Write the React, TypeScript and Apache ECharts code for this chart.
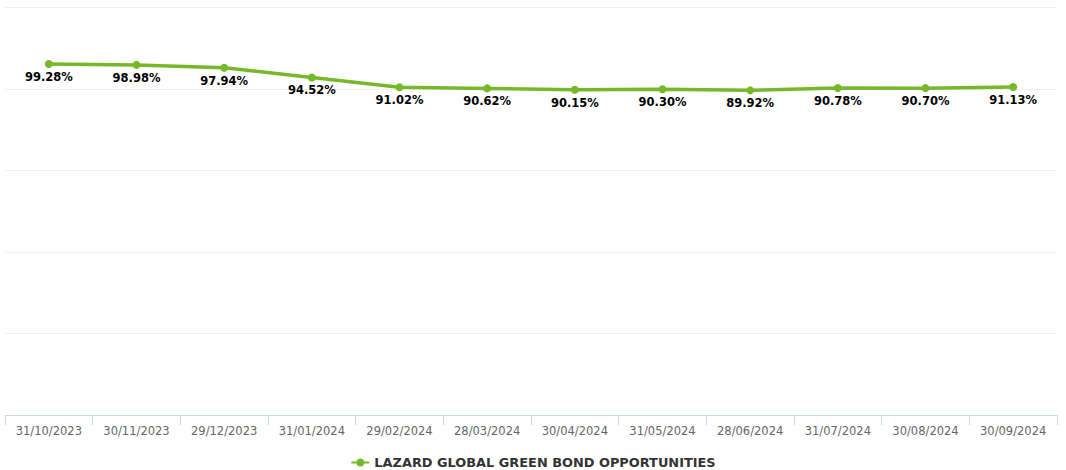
import React, { useEffect, useRef } from "react";
import * as echarts from "echarts";

const categories = [
  "31/10/2023", "30/11/2023", "29/12/2023", "31/01/2024", "29/02/2024", "28/03/2024",
  "30/04/2024", "31/05/2024", "28/06/2024", "31/07/2024", "30/08/2024", "30/09/2024",
];
const seriesName = "LAZARD GLOBAL GREEN BOND OPPORTUNITIES";
const values = [99.28, 98.98, 97.94, 94.52, 91.02, 90.62, 90.15, 90.3, 89.92, 90.78, 90.7, 91.13];

const FONT = "DejaVu Sans";
const GREEN = "#76b82a";

export default function App() {
  const ref = useRef<HTMLDivElement>(null);
  useEffect(() => {
    const chart = echarts.init(ref.current!, null, { renderer: "svg" });
    chart.setOption({
      animation: false,
      backgroundColor: "#ffffff",
      grid: { left: 5, right: 9, top: 7.5, bottom: 55, containLabel: false },
      legend: {
        top: 451,
        left: "center",
        itemWidth: 18,
        itemHeight: 10,
        itemGap: 6,
        textStyle: { fontFamily: FONT, fontSize: 12.9, fontWeight: "bold", color: "#333333" },
        data: [seriesName],
      },
      xAxis: {
        type: "category",
        data: categories,
        boundaryGap: true,
        axisLine: { onZero: false, lineStyle: { color: "#ccd6eb", width: 1 } },
        axisTick: { show: true, length: 10, alignWithLabel: false, lineStyle: { color: "#ccd6eb" } },
        axisLabel: { fontFamily: FONT, fontSize: 11.5, color: "#666666", margin: 10, interval: 0 },
        splitLine: { show: false },
      },
      yAxis: {
        type: "value",
        min: -25.6,
        max: 119.4,
        interval: 29,
        axisLabel: { show: false },
        axisLine: { show: false },
        axisTick: { show: false },
        splitLine: { lineStyle: { color: "#f0f0f0", width: 1 } },
      },
      series: [
        {
          name: seriesName,
          type: "line",
          data: values,
          symbol: "circle",
          symbolSize: 8,
          lineStyle: { color: GREEN, width: 3.5 },
          itemStyle: { color: GREEN },
          label: {
            show: true,
            position: "bottom",
            distance: 3,
            formatter: (p: any) => p.value.toFixed(2) + "%",
            fontFamily: FONT,
            fontSize: 11.5,
            fontWeight: "bold",
            color: "#000000",
          },
        },
      ],
    });
    return () => chart.dispose();
  }, []);
  return (
    <div
      ref={ref}
      style={{ position: "absolute", left: 0, top: 0, width: 1066, height: 470 }}
    />
  );
}
